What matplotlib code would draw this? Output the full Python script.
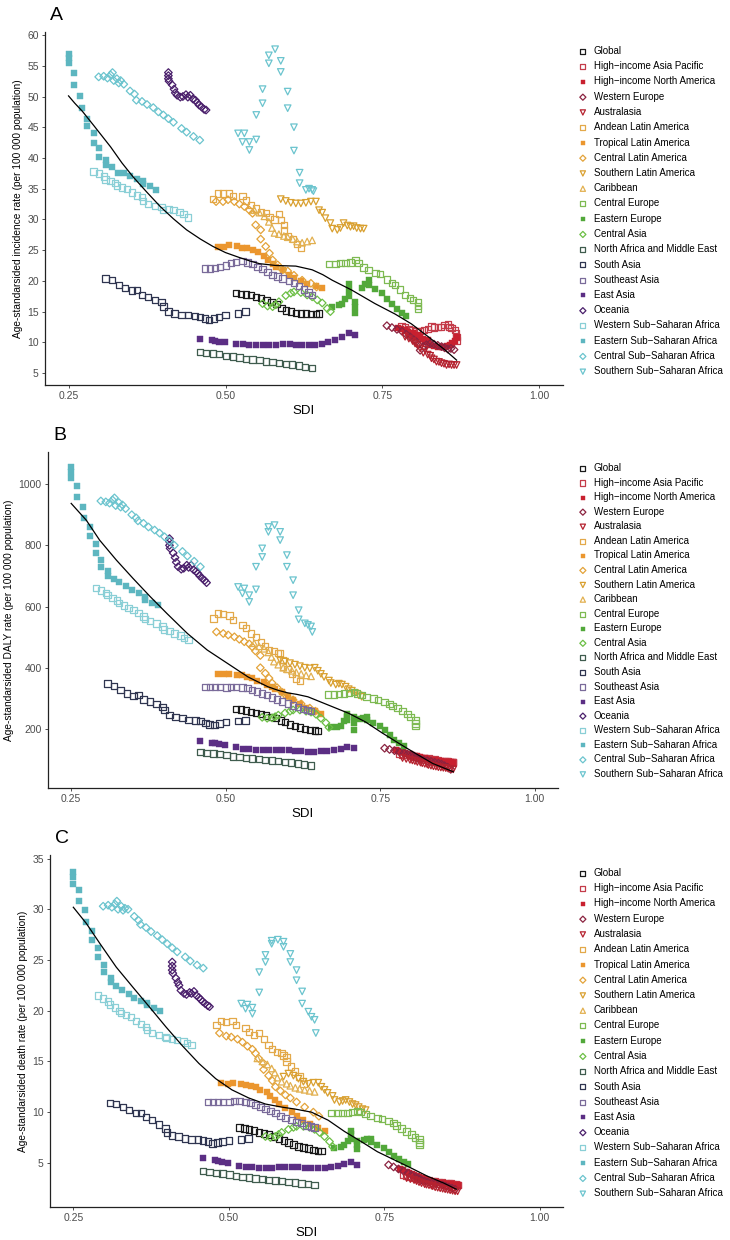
import matplotlib
matplotlib.use("Agg")
import matplotlib.pyplot as plt

plt.rcParams['font.family'] = ['Liberation Sans', 'DejaVu Sans']

# SDI per region (same years in all three panels) and the three rates
sdi_global = [0.517, 0.525, 0.533, 0.541, 0.549, 0.557, 0.565, 0.573, 0.581, 0.589, 0.596, 0.604, 0.612, 0.620, 0.628, 0.636, 0.644, 0.649]
inc_global = [18.0, 17.9, 17.8, 17.7, 17.4, 17.2, 16.9, 16.6, 16.2, 15.6, 15.2, 15.0, 14.8, 14.7, 14.7, 14.6, 14.6, 14.7]
daly_global = [266, 263, 260, 256, 252, 248, 244, 240, 235, 228, 222, 215, 210, 205, 200, 197, 195, 193]
death_global = [8.5, 8.4, 8.3, 8.2, 8.0, 7.9, 7.8, 7.6, 7.4, 7.2, 7.0, 6.8, 6.6, 6.5, 6.4, 6.3, 6.2, 6.2]

sdi_hiap = [0.780, 0.786, 0.792, 0.798, 0.804, 0.810, 0.816, 0.822, 0.828, 0.832, 0.838, 0.843, 0.849, 0.854, 0.857, 0.860, 0.865, 0.867, 0.868, 0.868]
inc_hiap = [12.6, 12.4, 12.2, 12.0, 11.8, 11.8, 12.0, 12.2, 12.6, 12.4, 12.5, 12.5, 12.8, 12.9, 12.5, 12.3, 12.0, 11.5, 10.9, 10.3]
daly_hiap = [118, 116, 114, 112, 110, 108, 106, 105, 104, 102, 100, 98, 96, 96, 95, 94, 93, 92, 91, 90]
death_hiap = [3.8, 3.7, 3.6, 3.5, 3.4, 3.4, 3.3, 3.3, 3.2, 3.2, 3.1, 3.1, 3.0, 3.0, 2.95, 2.9, 2.9, 2.85, 2.8, 2.8]

sdi_hina = [0.775, 0.780, 0.786, 0.790, 0.794, 0.798, 0.802, 0.806, 0.810, 0.815, 0.818, 0.822, 0.826, 0.832, 0.839, 0.844, 0.849, 0.853, 0.857, 0.861, 0.865, 0.868]
inc_hina = [12.3, 12.2, 12.0, 11.6, 11.2, 11.5, 10.9, 11.2, 10.8, 10.6, 10.1, 10.3, 9.6, 9.4, 9.3, 9.2, 9.3, 9.4, 9.6, 9.9, 10.2, 10.9]
daly_hina = [130, 128, 125, 122, 119, 117, 115, 112, 110, 108, 106, 104, 102, 100, 98, 96, 94, 93, 92, 92, 91, 90]
death_hina = [4.4, 4.3, 4.1, 4.0, 3.9, 3.8, 3.7, 3.6, 3.5, 3.4, 3.3, 3.25, 3.15, 3.1, 3.0, 3.0, 2.95, 2.9, 2.9, 2.85, 2.8, 2.8]

sdi_weur = [0.757, 0.765, 0.773, 0.781, 0.788, 0.794, 0.800, 0.804, 0.807, 0.810, 0.815, 0.820, 0.826, 0.832, 0.838, 0.844, 0.849, 0.854, 0.859, 0.864]
inc_weur = [12.7, 12.4, 12.1, 11.8, 11.3, 10.9, 10.4, 10.1, 9.6, 8.7, 9.3, 9.6, 9.8, 9.7, 9.5, 9.3, 9.1, 8.9, 9.0, 8.8]
daly_weur = [137, 133, 129, 125, 121, 117, 113, 110, 107, 104, 101, 99, 96, 94, 91, 88, 85, 80, 75, 68]
death_weur = [4.8, 4.6, 4.4, 4.2, 4.0, 3.8, 3.6, 3.5, 3.4, 3.3, 3.2, 3.1, 3.0, 2.95, 2.85, 2.8, 2.7, 2.6, 2.5, 2.4]

sdi_aus = [0.786, 0.792, 0.798, 0.802, 0.806, 0.810, 0.815, 0.818, 0.822, 0.826, 0.828, 0.832, 0.836, 0.840, 0.844, 0.848, 0.852, 0.856, 0.860, 0.864, 0.868]
inc_aus = [10.9, 10.6, 10.2, 9.8, 9.5, 9.0, 8.3, 8.8, 8.0, 7.8, 7.4, 7.2, 6.85, 6.8, 6.6, 6.5, 6.3, 6.4, 6.3, 6.3, 6.3]
daly_aus = [105, 102, 99, 97, 95, 92, 90, 88, 86, 84, 82, 80, 78, 77, 75, 74, 73, 72, 70, 69, 68]
death_aus = [3.5, 3.4, 3.3, 3.2, 3.1, 3.0, 2.9, 2.85, 2.8, 2.75, 2.7, 2.6, 2.55, 2.5, 2.45, 2.4, 2.35, 2.3, 2.25, 2.2, 2.2]

sdi_andean = [0.480, 0.488, 0.496, 0.506, 0.512, 0.527, 0.533, 0.541, 0.549, 0.557, 0.564, 0.570, 0.578, 0.585, 0.588, 0.593, 0.593, 0.600, 0.607, 0.614, 0.620]
inc_andean = [33.3, 34.2, 34.2, 34.2, 33.8, 33.8, 33.1, 32.3, 31.8, 31.2, 31.0, 30.4, 30.0, 30.9, 29.9, 29.1, 28.2, 27.3, 26.8, 26.0, 25.3]
daly_andean = [561, 577, 575, 571, 556, 540, 530, 512, 500, 485, 470, 458, 455, 448, 446, 425, 404, 395, 380, 365, 356]
death_andean = [18.6, 19.0, 18.9, 19.0, 18.6, 18.3, 17.9, 17.6, 17.8, 17.2, 16.6, 16.2, 15.9, 15.8, 15.6, 15.4, 15.0, 14.5, 14.0, 13.5, 12.8]

sdi_tropical = [0.488, 0.498, 0.506, 0.519, 0.527, 0.535, 0.543, 0.551, 0.562, 0.567, 0.575, 0.580, 0.591, 0.601, 0.609, 0.620, 0.630, 0.644, 0.654]
inc_tropical = [25.5, 25.5, 25.8, 25.7, 25.4, 25.3, 25.0, 24.7, 24.0, 23.4, 22.8, 22.2, 21.8, 21.0, 20.4, 20.0, 19.5, 19.2, 18.9]
daly_tropical = [381, 378, 381, 376, 376, 370, 365, 358, 352, 345, 338, 330, 320, 308, 295, 283, 270, 258, 248]
death_tropical = [12.9, 12.8, 12.9, 12.8, 12.7, 12.6, 12.5, 12.2, 12.0, 11.6, 11.2, 10.8, 10.4, 10.0, 9.6, 9.2, 8.8, 8.4, 8.1]

sdi_clat = [0.485, 0.496, 0.504, 0.514, 0.522, 0.530, 0.538, 0.543, 0.548, 0.556, 0.556, 0.564, 0.570, 0.575, 0.583, 0.591, 0.599, 0.609, 0.622, 0.636, 0.645]
inc_clat = [32.9, 32.9, 33.2, 32.9, 32.5, 32.1, 31.5, 31.0, 29.1, 28.3, 26.8, 25.6, 24.5, 23.4, 22.6, 21.8, 21.6, 20.9, 20.1, 19.6, 19.0]
daly_clat = [517, 512, 507, 501, 493, 485, 478, 468, 455, 440, 400, 382, 366, 350, 335, 320, 305, 295, 282, 268, 258]
death_clat = [17.8, 17.5, 17.4, 17.2, 16.9, 16.5, 16.2, 15.8, 15.3, 14.8, 14.2, 13.6, 13.1, 12.5, 12.1, 11.7, 11.4, 11.0, 10.5, 10.0, 9.6]

sdi_slat = [0.588, 0.596, 0.604, 0.612, 0.620, 0.628, 0.636, 0.644, 0.649, 0.654, 0.659, 0.667, 0.670, 0.678, 0.683, 0.688, 0.694, 0.699, 0.704, 0.709, 0.715, 0.720]
inc_slat = [33.3, 33.0, 32.7, 32.6, 32.6, 32.7, 32.9, 32.9, 31.5, 31.1, 30.2, 29.4, 28.5, 28.3, 28.6, 29.4, 29.0, 28.8, 28.9, 28.6, 28.5, 28.5]
daly_slat = [425, 420, 415, 410, 405, 400, 398, 400, 390, 380, 370, 358, 350, 345, 348, 345, 338, 330, 325, 318, 310, 305]
death_slat = [13.5, 13.8, 13.6, 13.3, 13.0, 12.8, 12.9, 12.9, 12.5, 12.2, 11.9, 11.6, 11.2, 11.0, 11.1, 11.2, 11.0, 10.8, 10.7, 10.5, 10.3, 10.2]

sdi_carib = [0.546, 0.554, 0.562, 0.569, 0.574, 0.578, 0.585, 0.593, 0.599, 0.607, 0.614, 0.622, 0.630, 0.638]
inc_carib = [31.5, 31.1, 30.5, 29.6, 28.6, 27.8, 27.6, 27.3, 27.1, 26.8, 26.4, 26.2, 26.4, 26.6]
daly_carib = [480, 470, 462, 450, 435, 420, 410, 400, 395, 390, 385, 380, 375, 372]
death_carib = [15.3, 15.0, 14.7, 14.3, 13.9, 13.4, 13.0, 12.8, 12.6, 12.4, 12.3, 12.2, 12.1, 12.0]

sdi_ceur = [0.665, 0.675, 0.683, 0.691, 0.699, 0.707, 0.712, 0.720, 0.728, 0.739, 0.746, 0.757, 0.765, 0.770, 0.778, 0.786, 0.794, 0.799, 0.807, 0.807, 0.807]
inc_ceur = [22.7, 22.7, 22.9, 22.9, 23.0, 23.4, 22.9, 22.2, 21.8, 21.3, 21.1, 20.2, 19.7, 19.3, 18.6, 17.7, 17.2, 16.9, 16.6, 15.9, 15.4]
daly_ceur = [312, 312, 315, 316, 318, 320, 316, 310, 305, 300, 295, 288, 282, 275, 268, 258, 248, 240, 228, 218, 210]
death_ceur = [9.9, 9.9, 9.9, 9.9, 10.0, 10.1, 10.0, 9.8, 9.6, 9.4, 9.3, 9.1, 8.9, 8.7, 8.4, 8.1, 7.8, 7.5, 7.3, 7.0, 6.8]

sdi_eeur = [0.670, 0.680, 0.686, 0.691, 0.696, 0.696, 0.696, 0.707, 0.707, 0.707, 0.717, 0.722, 0.728, 0.728, 0.738, 0.749, 0.757, 0.765, 0.773, 0.781, 0.788]
inc_eeur = [15.7, 16.0, 16.3, 17.0, 19.5, 18.5, 17.5, 16.6, 15.7, 14.8, 18.8, 19.5, 20.2, 19.3, 18.6, 18.0, 17.1, 16.2, 15.4, 14.8, 14.2]
daly_eeur = [205, 205, 210, 225, 250, 240, 230, 238, 220, 198, 232, 236, 238, 228, 220, 210, 195, 180, 165, 155, 145]
death_eeur = [6.5, 6.6, 6.8, 7.2, 8.1, 7.8, 7.4, 7.2, 6.8, 6.4, 7.3, 7.4, 7.4, 7.1, 6.8, 6.5, 6.1, 5.7, 5.4, 5.1, 4.9]

sdi_casia = [0.559, 0.567, 0.575, 0.580, 0.585, 0.596, 0.604, 0.609, 0.620, 0.630, 0.638, 0.646, 0.654, 0.662, 0.667]
inc_casia = [16.3, 15.9, 15.8, 16.1, 16.6, 17.6, 18.0, 18.2, 18.1, 17.7, 17.4, 16.9, 16.4, 15.5, 15.0]
daly_casia = [238, 235, 236, 240, 245, 252, 258, 262, 262, 258, 255, 248, 235, 220, 205]
death_casia = [7.6, 7.5, 7.6, 7.8, 8.0, 8.3, 8.5, 8.6, 8.6, 8.5, 8.3, 8.0, 7.6, 7.1, 6.6]

sdi_name = [0.459, 0.469, 0.480, 0.490, 0.501, 0.512, 0.522, 0.533, 0.543, 0.554, 0.564, 0.575, 0.585, 0.596, 0.606, 0.617, 0.627, 0.638]
inc_name = [8.4, 8.3, 8.2, 8.1, 7.8, 7.7, 7.5, 7.3, 7.2, 7.1, 6.9, 6.8, 6.6, 6.5, 6.4, 6.2, 6.0, 5.8]
daly_name = [125, 122, 120, 118, 114, 110, 108, 105, 103, 101, 99, 97, 95, 92, 90, 87, 84, 80]
death_name = [4.2, 4.1, 4.0, 3.95, 3.85, 3.7, 3.6, 3.55, 3.45, 3.4, 3.3, 3.25, 3.2, 3.1, 3.05, 2.95, 2.9, 2.8]

sdi_sasia = [0.309, 0.319, 0.330, 0.340, 0.351, 0.359, 0.367, 0.377, 0.388, 0.398, 0.401, 0.409, 0.419, 0.430, 0.440, 0.451, 0.459, 0.467, 0.474, 0.482, 0.490, 0.500, 0.520, 0.532]
inc_sasia = [20.4, 20.1, 19.3, 18.8, 18.4, 18.5, 17.7, 17.4, 16.9, 16.6, 15.8, 15.0, 14.7, 14.4, 14.4, 14.3, 14.15, 13.9, 13.6, 13.9, 14.15, 14.4, 14.7, 15.0]
daly_sasia = [349, 340, 327, 316, 307, 310, 296, 290, 282, 272, 262, 245, 240, 235, 230, 228, 225, 220, 214, 212, 218, 222, 226, 227]
death_sasia = [10.9, 10.8, 10.5, 10.2, 9.9, 9.9, 9.5, 9.2, 8.8, 8.4, 8.0, 7.7, 7.6, 7.4, 7.3, 7.3, 7.2, 7.1, 6.9, 7.0, 7.1, 7.2, 7.3, 7.4]

sdi_seasia = [0.467, 0.475, 0.483, 0.491, 0.501, 0.509, 0.517, 0.527, 0.535, 0.543, 0.551, 0.559, 0.567, 0.575, 0.583, 0.591, 0.601, 0.609, 0.617, 0.625, 0.632, 0.638]
inc_seasia = [22.0, 22.0, 22.1, 22.3, 22.5, 22.9, 23.1, 23.2, 23.0, 22.7, 22.3, 21.9, 21.4, 21.0, 20.7, 20.4, 20.0, 19.6, 19.2, 18.6, 18.1, 17.7]
daly_seasia = [338, 337, 337, 337, 336, 338, 338, 336, 333, 328, 322, 316, 310, 303, 296, 290, 283, 277, 271, 266, 262, 258]
death_seasia = [11.0, 11.0, 11.0, 11.0, 11.0, 11.1, 11.1, 11.0, 10.9, 10.7, 10.5, 10.3, 10.1, 9.9, 9.6, 9.4, 9.2, 9.0, 8.9, 8.7, 8.6, 8.5]

sdi_easia = [0.459, 0.478, 0.483, 0.489, 0.499, 0.517, 0.528, 0.538, 0.549, 0.560, 0.570, 0.581, 0.591, 0.602, 0.612, 0.622, 0.633, 0.643, 0.654, 0.664, 0.675, 0.686, 0.696, 0.707]
inc_easia = [10.5, 10.3, 10.2, 10.1, 10.0, 9.8, 9.7, 9.6, 9.5, 9.6, 9.6, 9.6, 9.8, 9.7, 9.6, 9.5, 9.5, 9.6, 9.8, 10.0, 10.3, 10.8, 11.5, 11.2]
daly_easia = [162, 155, 153, 150, 147, 140, 136, 134, 132, 132, 131, 131, 130, 130, 129, 127, 126, 126, 127, 129, 131, 135, 141, 137]
death_easia = [5.5, 5.3, 5.2, 5.1, 5.0, 4.7, 4.6, 4.55, 4.5, 4.5, 4.5, 4.55, 4.6, 4.6, 4.55, 4.5, 4.45, 4.45, 4.5, 4.6, 4.7, 4.9, 5.05, 4.8]

sdi_oceania = [0.409, 0.409, 0.409, 0.410, 0.415, 0.418, 0.420, 0.423, 0.428, 0.432, 0.437, 0.440, 0.444, 0.448, 0.452, 0.455, 0.458, 0.462, 0.466, 0.469]
inc_oceania = [53.9, 53.4, 52.9, 52.5, 51.9, 51.2, 50.6, 50.2, 49.9, 50.0, 50.3, 49.9, 50.2, 49.6, 49.4, 49.0, 48.6, 48.3, 47.9, 47.8]
daly_oceania = [822, 812, 800, 790, 775, 760, 745, 730, 722, 725, 735, 728, 735, 720, 715, 708, 700, 692, 685, 678]
death_oceania = [24.8, 24.4, 24.0, 23.7, 23.2, 22.8, 22.5, 22.0, 21.7, 21.6, 21.8, 21.7, 21.9, 21.5, 21.3, 21.1, 20.9, 20.7, 20.5, 20.4]

sdi_wssa = [0.290, 0.298, 0.306, 0.309, 0.317, 0.324, 0.327, 0.335, 0.343, 0.351, 0.359, 0.367, 0.369, 0.377, 0.388, 0.398, 0.400, 0.409, 0.417, 0.427, 0.433, 0.440]
inc_wssa = [37.8, 37.5, 37.0, 36.5, 36.2, 35.9, 35.5, 35.2, 35.0, 34.4, 33.9, 33.6, 33.0, 32.5, 32.2, 32.0, 31.5, 31.7, 31.5, 31.2, 30.9, 30.3]
daly_wssa = [660, 652, 645, 637, 628, 620, 612, 603, 596, 588, 578, 568, 560, 552, 545, 535, 525, 520, 512, 505, 497, 490]
death_wssa = [21.5, 21.2, 20.9, 20.6, 20.3, 20.0, 19.8, 19.6, 19.4, 19.0, 18.7, 18.4, 18.1, 17.8, 17.6, 17.4, 17.3, 17.2, 17.1, 17.0, 16.8, 16.6]

sdi_essa = [0.250, 0.250, 0.250, 0.259, 0.259, 0.269, 0.271, 0.280, 0.280, 0.290, 0.290, 0.299, 0.299, 0.310, 0.310, 0.319, 0.328, 0.339, 0.348, 0.359, 0.369, 0.369, 0.380, 0.390]
inc_essa = [57.0, 56.3, 55.5, 53.8, 51.8, 50.1, 48.1, 46.4, 45.2, 44.0, 42.5, 41.6, 40.2, 39.6, 38.8, 38.5, 37.6, 37.6, 37.1, 36.5, 36.2, 35.7, 35.4, 34.8]
daly_essa = [1055, 1040, 1020, 995, 958, 925, 888, 860, 830, 805, 775, 752, 730, 715, 700, 690, 680, 667, 655, 645, 630, 620, 612, 605]
death_essa = [33.7, 33.2, 32.5, 31.9, 30.8, 29.9, 28.7, 27.9, 27.0, 26.2, 25.3, 24.5, 23.8, 23.2, 22.8, 22.4, 22.0, 21.6, 21.3, 21.0, 20.8, 20.6, 20.3, 20.0]

sdi_cssa = [0.298, 0.306, 0.312, 0.317, 0.320, 0.322, 0.327, 0.330, 0.333, 0.338, 0.348, 0.355, 0.358, 0.367, 0.375, 0.385, 0.393, 0.401, 0.409, 0.417, 0.430, 0.438, 0.449, 0.459]
inc_cssa = [53.2, 53.3, 53.0, 53.5, 53.9, 52.6, 52.9, 52.2, 52.6, 52.0, 50.9, 50.4, 49.4, 49.2, 48.7, 48.2, 47.5, 47.0, 46.4, 45.8, 44.8, 44.2, 43.5, 42.9]
daly_cssa = [945, 942, 938, 948, 955, 930, 940, 925, 932, 920, 900, 890, 880, 872, 860, 850, 840, 828, 815, 800, 780, 765, 748, 730]
death_cssa = [30.3, 30.4, 30.2, 30.5, 30.8, 30.0, 30.3, 29.9, 30.1, 30.0, 29.3, 28.9, 28.5, 28.2, 27.8, 27.4, 27.0, 26.6, 26.2, 25.8, 25.3, 24.9, 24.5, 24.2]

sdi_sssa = [0.520, 0.530, 0.527, 0.538, 0.538, 0.549, 0.549, 0.559, 0.559, 0.569, 0.569, 0.579, 0.588, 0.588, 0.599, 0.599, 0.609, 0.609, 0.618, 0.618, 0.628, 0.633, 0.638, 0.640]
inc_sssa = [44.0, 44.0, 42.6, 42.6, 41.3, 43.0, 47.0, 48.9, 51.2, 55.4, 56.7, 57.7, 55.8, 54.0, 50.8, 48.1, 45.0, 41.2, 37.6, 35.9, 34.8, 35.0, 34.8, 34.6]
daly_sssa = [664, 659, 643, 637, 615, 656, 730, 762, 790, 844, 860, 866, 844, 817, 768, 730, 686, 637, 588, 558, 545, 540, 535, 517]
death_sssa = [20.7, 20.6, 20.2, 20.3, 19.7, 21.8, 23.8, 24.8, 25.5, 26.6, 26.9, 27.0, 26.8, 26.3, 25.6, 24.8, 24.0, 23.0, 21.9, 20.7, 19.9, 19.4, 19.1, 17.8]

# smoothed trend line
fit_sdi_inc = [0.25, 0.26, 0.272, 0.29, 0.317, 0.335, 0.353, 0.375, 0.396, 0.417, 0.438, 0.46, 0.48, 0.5, 0.522, 0.54, 0.554, 0.58, 0.612, 0.638, 0.655, 0.67, 0.701, 0.738, 0.77, 0.796, 0.823, 0.849, 0.868]
fit_inc = [50.1, 48.9, 47.6, 45.3, 41.8, 39.2, 36.9, 34.4, 32.1, 30.1, 28.3, 26.8, 25.6, 24.6, 23.8, 23.2, 22.8, 22.5, 22.4, 21.8, 21.0, 20.1, 18.5, 16.3, 14.6, 13.0, 10.9, 8.8, 7.1]
fit_sdi_daly = [0.25, 0.2745, 0.296, 0.323, 0.35, 0.378, 0.405, 0.438, 0.47, 0.503, 0.536, 0.568, 0.585, 0.6, 0.615, 0.633, 0.666, 0.699, 0.726, 0.753, 0.78, 0.807, 0.835, 0.862, 0.868]
fit_daly = [937, 882, 817, 752, 692, 632, 577, 512, 458, 414, 370, 338, 326, 318, 313, 305, 278, 251, 223, 187, 153, 120, 87, 65, 60]
fit_sdi_death = [0.25, 0.271, 0.293, 0.319, 0.346, 0.372, 0.399, 0.426, 0.452, 0.479, 0.505, 0.532, 0.559, 0.585, 0.607, 0.633, 0.66, 0.686, 0.713, 0.739, 0.766, 0.793, 0.819, 0.846, 0.866]
fit_death = [30.2, 28.6, 26.6, 24.3, 22.3, 20.4, 18.4, 16.5, 14.8, 13.3, 12.2, 11.4, 10.8, 10.5, 10.3, 10.0, 9.2, 8.1, 7.1, 6.1, 5.3, 4.5, 3.7, 3.0, 2.4]

M = "\u2212"
regions = [
    ("Global", "s", "#1a1a1a", False, sdi_global, inc_global, daly_global, death_global),
    ("High" + M + "income Asia Pacific", "s", "#c43c4a", False, sdi_hiap, inc_hiap, daly_hiap, death_hiap),
    ("High" + M + "income North America", "s", "#c8202f", True, sdi_hina, inc_hina, daly_hina, death_hina),
    ("Western Europe", "D", "#8b2340", False, sdi_weur, inc_weur, daly_weur, death_weur),
    ("Australasia", "v", "#b5222f", False, sdi_aus, inc_aus, daly_aus, death_aus),
    ("Andean Latin America", "s", "#e3a94a", False, sdi_andean, inc_andean, daly_andean, death_andean),
    ("Tropical Latin America", "s", "#eb962e", True, sdi_tropical, inc_tropical, daly_tropical, death_tropical),
    ("Central Latin America", "D", "#e3a33a", False, sdi_clat, inc_clat, daly_clat, death_clat),
    ("Southern Latin America", "v", "#d9a030", False, sdi_slat, inc_slat, daly_slat, death_slat),
    ("Caribbean", "^", "#e2b050", False, sdi_carib, inc_carib, daly_carib, death_carib),
    ("Central Europe", "s", "#7eba52", False, sdi_ceur, inc_ceur, daly_ceur, death_ceur),
    ("Eastern Europe", "s", "#52a83a", True, sdi_eeur, inc_eeur, daly_eeur, death_eeur),
    ("Central Asia", "D", "#6cbf45", False, sdi_casia, inc_casia, daly_casia, death_casia),
    ("North Africa and Middle East", "s", "#3f5c4e", False, sdi_name, inc_name, daly_name, death_name),
    ("South Asia", "s", "#2f3550", False, sdi_sasia, inc_sasia, daly_sasia, death_sasia),
    ("Southeast Asia", "s", "#7a6b9a", False, sdi_seasia, inc_seasia, daly_seasia, death_seasia),
    ("East Asia", "s", "#5b2e84", True, sdi_easia, inc_easia, daly_easia, death_easia),
    ("Oceania", "D", "#4a1f6b", False, sdi_oceania, inc_oceania, daly_oceania, death_oceania),
    ("Western Sub" + M + "Saharan Africa", "s", "#8acfd6", False, sdi_wssa, inc_wssa, daly_wssa, death_wssa),
    ("Eastern Sub" + M + "Saharan Africa", "s", "#5db6c0", True, sdi_essa, inc_essa, daly_essa, death_essa),
    ("Central Sub" + M + "Saharan Africa", "D", "#6bc4ce", False, sdi_cssa, inc_cssa, daly_cssa, death_cssa),
    ("Southern Sub" + M + "Saharan Africa", "v", "#6bc4ce", False, sdi_sssa, inc_sssa, daly_sssa, death_sssa),
]

panels = [
    # letter, y label, column, ticks, ylim, axes rect, fit, legend top, legend spacing
    ("A", "Age-standarsided incidence rate (per 100 000 population)", 5, list(range(5, 61, 5)), (3.05, 60.5),
     [45 / 730, 1 - 385 / 1240, 518 / 730, 353 / 1240], (fit_sdi_inc, fit_inc), 1 - 46 / 1240, 0.54),
    ("B", "Age-standarsided DALY rate (per 100 000 population)", 6, [200, 400, 600, 800, 1000], (7, 1105),
     [48 / 730, 1 - 788 / 1240, 510 / 730, 336 / 1240], (fit_sdi_daly, fit_daly), 1 - 463 / 1240, 0.47),
    ("C", "Age-standarsided death rate (per 100 000 population)", 7, list(range(5, 36, 5)), (0.65, 35.35),
     [50 / 730, 1 - 1207 / 1240, 513 / 730, 352 / 1240], (fit_sdi_death, fit_death), 1 - 868 / 1240, 0.54),
]

fig = plt.figure(figsize=(7.3, 12.4), dpi=100)

for letter, ylabel, col, yticks, ylim, rect, fit, leg_top, leg_sp in panels:
    ax = fig.add_axes(rect)
    handles = []
    for reg in regions:
        name, mk, colr, filled, xs, ys = reg[0], reg[1], reg[2], reg[3], reg[4], reg[col]
        size = {"s": 21, "D": 15, "v": 22, "^": 22}[mk]
        if filled:
            h = ax.scatter(xs, ys, s=size - 3, marker=mk, facecolors=colr, edgecolors=colr, linewidths=0.3, label=name)
        else:
            h = ax.scatter(xs, ys, s=size, marker=mk, facecolors="none", edgecolors=colr, linewidths=0.9, label=name)
        handles.append(h)
    ax.plot(fit[0], fit[1], color="black", lw=0.9, zorder=5)

    ax.set_xlim(0.2125, 1.0375)
    ax.set_ylim(*ylim)
    ax.set_xticks([0.25, 0.50, 0.75, 1.00])
    ax.set_xticklabels(["0.25", "0.50", "0.75", "1.00"])
    ax.set_yticks(yticks)
    ax.tick_params(axis="both", labelsize=7.5, labelcolor="#4d4d4d", color="#333333", length=2.5, width=0.6, pad=2)
    for side in ("top", "right"):
        ax.spines[side].set_visible(False)
    for side in ("left", "bottom"):
        ax.spines[side].set_linewidth(0.9)
        ax.spines[side].set_color("#222222")
    ax.set_xlabel("SDI", fontsize=9.5, labelpad=3)
    ax.set_ylabel(ylabel, fontsize=7.3, labelpad=3)

    fig.text(rect[0] + 5 / 730, rect[1] + rect[3] + 8 / 1240, letter, fontsize=14, va="bottom", ha="left")

    fig.legend(handles=handles, loc="upper left", bbox_to_anchor=(578 / 730, leg_top),
               bbox_transform=fig.transFigure, frameon=False, fontsize=7, borderpad=0, borderaxespad=0,
               handlelength=1.0, handletextpad=0.6, labelspacing=leg_sp, scatterpoints=1, markerscale=0.8)

fig.savefig("out.png", dpi=100)
